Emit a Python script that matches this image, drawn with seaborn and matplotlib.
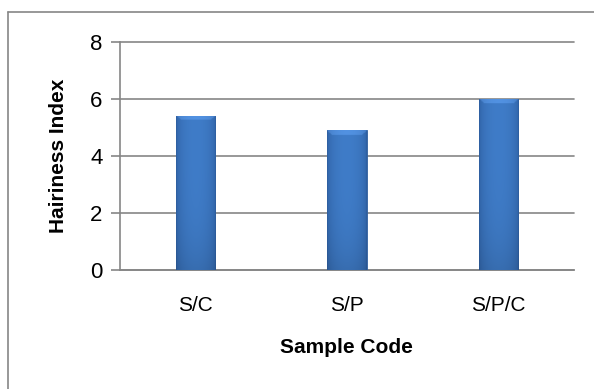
import numpy as np
import matplotlib
matplotlib.use("Agg")
import matplotlib.pyplot as plt
import seaborn as sns
from matplotlib.colors import to_rgb
from matplotlib.lines import Line2D

# -----------------------------------
# DATA
# -----------------------------------

samples = ["S/C", "S/P", "S/P/C"]
hairiness = [5.4, 4.9, 6.0]
y_ticks = [0, 2, 4, 6, 8]

# -----------------------------------
# STYLE
# -----------------------------------

sns.set_style("white")
plt.rcParams["font.family"] = ["Liberation Sans", "DejaVu Sans"]
plt.rcParams["text.color"] = "black"
plt.rcParams["axes.labelcolor"] = "black"
plt.rcParams["xtick.color"] = "black"
plt.rcParams["ytick.color"] = "black"

grey = "#868686"

fig = plt.figure(figsize=(5.94, 3.89), dpi=100)
ax = fig.add_axes([0.202, 0.306, 0.764, 0.587])

sns.barplot(x=samples, y=hairiness, color="#3a72be", width=0.26,
            edgecolor="#2f5f9f", linewidth=0.6, ax=ax, zorder=3)

# -----------------------------------
# GRADIENT FILL ON BARS
# -----------------------------------

dark = np.array(to_rgb("#2d5d9e"))
light = np.array(to_rgb("#3f7cc8"))

nx = 60
t = np.linspace(0, 1, nx)
prof = np.sin(np.pi * t) ** 0.4
row = dark[None, :] * (1 - prof[:, None]) + light[None, :] * prof[:, None]
ny = 200
v = np.linspace(0, 1, ny)[:, None, None]
grad = np.clip(row[None, :, :] * (1 - 0.12 * v ** 4), 0, 1)

for patch in ax.patches:
    x0, y0 = patch.get_x(), patch.get_y()
    w, h = patch.get_width(), patch.get_height()
    img = grad.copy()
    # lighter bevel band at top
    band = int(ny * 0.18 / h)
    for r in range(band):
        inset = int(nx * 0.15 * r / band)
        img[r, inset:nx - inset] = np.clip(img[r, inset:nx - inset] * 1.05 + 0.06, 0, 1)
    im = ax.imshow(img, extent=[x0, x0 + w, y0, y0 + h], origin="upper",
                   aspect="auto", zorder=4, interpolation="bilinear")
    im.set_clip_path(patch)

ax.set_xlim(-0.5, 2.5)
ax.set_ylim(0, 8)
ax.set_yticks(y_ticks)

# -----------------------------------
# AXES, GRID, LABELS
# -----------------------------------

ax.yaxis.grid(True, color=grey, linewidth=1.2, zorder=0)
for gl in ax.get_ygridlines():
    gl.set_clip_on(False)
ax.set_axisbelow(True)
for side in ["top", "right"]:
    ax.spines[side].set_visible(False)
for side in ["left", "bottom"]:
    ax.spines[side].set_color(grey)
    ax.spines[side].set_linewidth(1.2)

ax.tick_params(axis="y", direction="out", length=6.5, width=1.2, color=grey,
               labelcolor="black", labelsize=16, pad=6, left=True)
ax.tick_params(axis="x", length=0, labelcolor="black", labelsize=15, pad=19)

ax.set_xlabel("Sample Code", fontsize=15, fontweight="bold", labelpad=16)
ax.set_ylabel("Hairiness Index", fontsize=15, fontweight="bold", labelpad=16)

# chart border (partly cropped in the reference)
fig.add_artist(Line2D([8 / 594, 1.0], [1 - 12 / 389, 1 - 12 / 389],
                      transform=fig.transFigure, color=grey, linewidth=1.2))
fig.add_artist(Line2D([8 / 594, 8 / 594], [0, 1 - 12 / 389],
                      transform=fig.transFigure, color=grey, linewidth=1.2))

fig.savefig("out.png", dpi=100)
